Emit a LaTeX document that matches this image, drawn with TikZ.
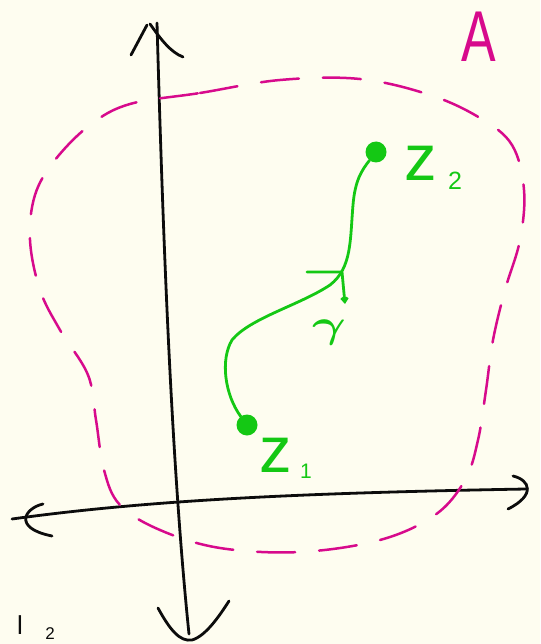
\documentclass[tikz,border=0pt]{standalone}
\usepackage{graphicx}
\usepackage{amsmath}
\usepackage{fontspec}
\setmainfont{Liberation Sans}
\usetikzlibrary{arrows.meta}
\definecolor{paper}{RGB}{254,253,240}
\definecolor{ink}{RGB}{12,12,12}
\definecolor{mag}{RGB}{215,10,140}
\definecolor{grn}{RGB}{20,200,20}
\begin{document}
\begin{tikzpicture}[x=1pt,y=-1pt,
  axisline/.style={ink,line width=2.8pt,line cap=round,line join=round},
  region/.style={mag,line width=2.5pt,line cap=round,dash pattern=on 38pt off 24pt},
  pathline/.style={grn,line width=2.8pt,line cap=round,line join=round},
  dot/.style={circle,fill=grn,inner sep=0pt,minimum size=21pt},
  lbl/.style={inner sep=0pt,anchor=center},
]
\fill[paper] (0,0) rectangle (540,644);
\useasboundingbox (0,0) rectangle (540,644);

% axes
\coordinate (ytop) at (157,23);
\coordinate (ybot) at (189,634);
\coordinate (xleft) at (12,519);
\coordinate (xright) at (526,489);
\draw[axisline] (ytop) .. controls (162,200) and (170,450) .. (ybot);
\draw[axisline] (131,55) -- (147,25);
\draw[axisline] (150,24) .. controls (160,38) and (170,52) .. (183,57);
\draw[axisline] (158,608) .. controls (170,630) and (180,642) .. (192,640)
                .. controls (206,636) and (220,615) .. (229,601);
\draw[axisline] (xleft) .. controls (150,500) and (300,493) .. (xright);
\draw[axisline] (43,504) .. controls (25,508) and (12,528) .. (52,536);
\draw[axisline] (513,476) .. controls (530,480) and (536,495) .. (508,509);

% region A
\draw[region] plot[smooth cycle,tension=0.6] coordinates {
 (130,104) (200,93) (280,80) (360,79) (430,95) (480,118) (512,145) (524,190)
 (520,240) (505,290) (493,340) (486,390) (478,440) (465,480) (435,515) (380,540)
 (300,552) (220,548) (160,530) (120,505) (104,470) (96,420) (88,375) (60,330)
 (40,290) (30,240) (35,195) (55,160) (90,125)};
\node[lbl,mag,xscale=0.72] (A) at (479,37) {\fontsize{72}{76}\selectfont A};

% path gamma
\node[dot] (z1) at (247,425) {};
\node[dot] (z2) at (376,152) {};
\draw[pathline] (z1) .. controls (225,395) and (220,360) .. (232,340)
  .. controls (250,318) and (300,305) .. (330,285)
  .. controls (352,268) and (350,240) .. (353,205)
  .. controls (355,180) and (362,170) .. (z2);
\coordinate (tick) at (307,272);
\coordinate (tickc) at (342,272);
\coordinate (tickend) at (345,304);
\draw[pathline,-{Straight Barb[length=4pt,width=6pt]}] (tick) -- (tickc) -- (tickend);

\node[lbl,grn] (zA) at (276,455) {\fontsize{65}{70}\selectfont z};
\node[lbl,grn] (zAs) at (306,471) {\fontsize{21}{24}\selectfont 1};
\node[lbl,grn] (zB) at (421,163) {\fontsize{65}{70}\selectfont z};
\node[lbl,grn] (zBs) at (455,181) {\fontsize{25}{28}\selectfont 2};
\node[lbl,grn] (gam) at (329,333) {\huge\scalebox{2.5}[1.9]{$\boldsymbol{\gamma}$}};

% small text at bottom left
\node[lbl,ink,anchor=north] (bl1) at (20,615) {\fontsize{26}{28}\selectfont l};
\node[lbl,ink,anchor=north] (bl2) at (50,627) {\fontsize{17}{19}\selectfont 2};
\end{tikzpicture}
\end{document}
